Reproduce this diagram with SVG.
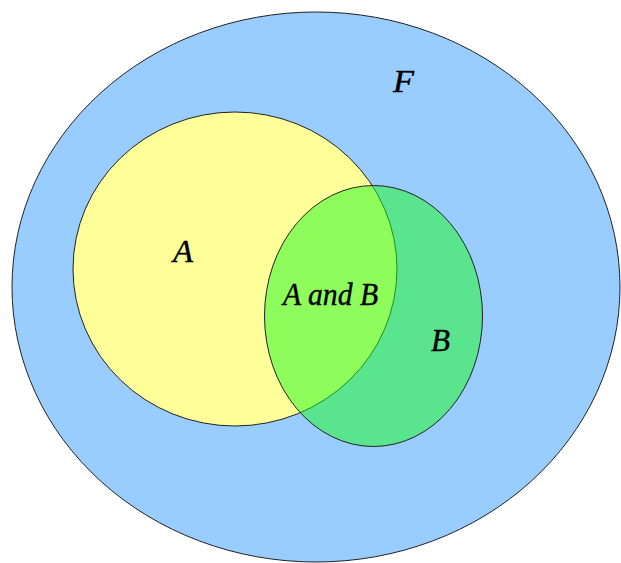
<svg xmlns="http://www.w3.org/2000/svg" width="621" height="563" viewBox="0 0 621 563">
<style>
.s{stroke:#222;stroke-width:1}
.t{font-family:"Liberation Serif","Times New Roman",serif;font-style:italic;font-size:31px;fill:#000;stroke:#000;stroke-width:0.4}
</style>
<rect width="621" height="563" fill="#fff"/>
<g id="F">
<ellipse class="s" cx="316" cy="287" rx="304" ry="275" fill="#99CCFF"/>
<text class="t" x="393" y="92" textLength="21" lengthAdjust="spacingAndGlyphs">F</text>
</g>
<g id="A">
<ellipse class="s" cx="235" cy="269" rx="162" ry="157" fill="#FFFF99"/>
<text class="t" x="173" y="262" textLength="20" lengthAdjust="spacingAndGlyphs">A</text>
</g>
<g id="B">
<ellipse class="s" cx="373.5" cy="316" rx="109" ry="130.5" fill="#1EFC1E" fill-opacity="0.5"/>
<text class="t" x="431" y="351" textLength="19" lengthAdjust="spacingAndGlyphs">B</text>
</g>
<g id="AB">
<text class="t" x="283" y="305" textLength="95" lengthAdjust="spacingAndGlyphs">A and B</text>
</g>
<g id="connectors"/>
</svg>
